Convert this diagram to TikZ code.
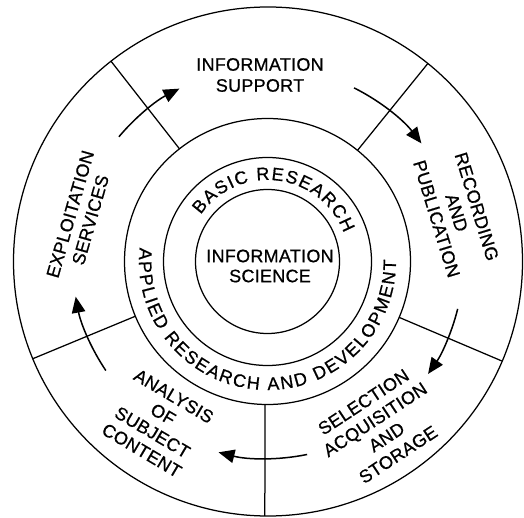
\documentclass[tikz,border=0pt]{standalone}
\usepackage{fontspec}
\setmainfont{Liberation Sans}
\newfontfamily\lblfam[LetterSpace=1.5,FakeBold=0.7]{Liberation Sans}
\newfontfamily\arcfam[FakeBold=0.7]{Liberation Sans}
\newcommand\arcfont{\arcfam\fontsize{18}{20}\selectfont}
\usetikzlibrary{arrows.meta,decorations.text}
\begin{document}
\begin{tikzpicture}[x=1pt,y=1pt,
  ring/.style={line width=1.25pt},
  flow/.style={line width=1.5pt,-{Triangle[length=16pt,width=13.5pt]}},
  lbl/.style={font={\lblfam\fontsize{18}{21}\selectfont}, align=center, inner sep=0pt},
  arctext/.style={decorate, decoration={text along path, text={|\arcfont|#1}, text align={fit to path}}}
]
\useasboundingbox (0,0) rectangle (524,517);
\fill[white] (0,0) rectangle (524,517);
\coordinate (C) at (267.5,255.5);
\coordinate (CO) at (268,255.5);
% circles
\draw[ring] (CO) circle[radius=254.5pt];
\draw[ring] (C) circle[radius=143pt];
\draw[ring] (C) circle[radius=104pt];
\draw[ring] (C) circle[radius=72pt];
% spokes
\draw[ring] ([shift={(128:143pt)}]C) -- ([shift={(128:254.5pt)}]C);
\draw[ring] ([shift={(51:143pt)}]C) -- ([shift={(51:254.5pt)}]C);
\draw[ring] ([shift={(-23:143pt)}]C) -- ([shift={(-23:254.5pt)}]C);
\draw[ring] ([shift={(-91:143pt)}]C) -- ([shift={(-90.6:254.5pt)}]C);
\draw[ring] ([shift={(202.5:143pt)}]C) -- ([shift={(202.5:254.5pt)}]C);
% arrows
\draw[flow] ([shift={(140:194pt)}]C) arc[start angle=140, end angle=117, radius=194pt];
\draw[flow] ([shift={(63.5:194pt)}]C) arc[start angle=63.5, end angle=37.5, radius=194pt];
\draw[flow] ([shift={(-14:196pt)}]C) arc[start angle=-14, end angle=-35, radius=196pt];
\draw[flow] ([shift={(-78.4:197pt)}]C) arc[start angle=-78.4, end angle=-104.4, radius=197pt];
\draw[flow] ([shift={(214:195pt)}]C) arc[start angle=214, end angle=190.4, radius=195pt];
% sector labels
\node[lbl] (sup) at (260,442) {INFORMATION\\SUPPORT};
\node[lbl, rotate=-73] (rec) at (456.7,304.3) {RECORDING\\AND\\PUBLICATION};
\node[lbl, rotate=33.3] (sel) at (380.8,88.7) {SELECTION\\ACQUISITION\\AND\\STORAGE};
\node[lbl, rotate=-30.6] (ana) at (157.8,93.7) {ANALYSIS\\OF\\SUBJECT\\CONTENT};
\node[lbl, rotate=74] (exp) at (80.3,300) {EXPLOITATION\\SERVICES};
\node[lbl, font={\lblfam\fontsize{18}{20}\selectfont}] (sci) at (270,251) {INFORMATION\\SCIENCE};
% curved labels
\path[arctext={APPLIED RESEARCH AND DEVELOPMENT}] ([shift={(173.8:128.5pt)}]C) arc[start angle=173.8, end angle=360.8, radius=128.5pt];
\path[arctext={BASIC RESEARCH}] ([shift={(145:81.5pt)}]C) arc[start angle=145, end angle=20.4, radius=81.5pt];
\end{tikzpicture}
\end{document}
